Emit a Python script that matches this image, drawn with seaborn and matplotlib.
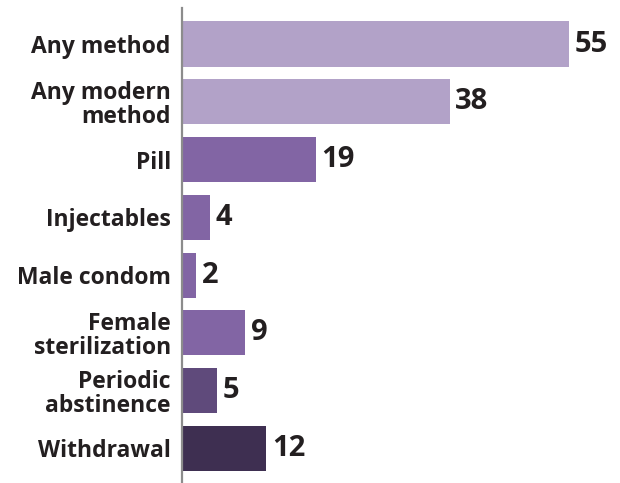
import matplotlib
matplotlib.use("Agg")
import matplotlib.pyplot as plt
import seaborn as sns
import pandas as pd

categories = ["Any method", "Any modern\nmethod", "Pill", "Injectables", "Male condom",
              "Female\nsterilization", "Periodic\nabstinence", "Withdrawal"]
values = [55, 38, 19, 4, 2, 9, 5, 12]
colors = ["#b2a2c8", "#b2a2c8", "#8265a4", "#8265a4", "#8265a4", "#8265a4", "#5f4a7b", "#3e2f51"]

df = pd.DataFrame({"cat": categories, "val": values})

sns.set_style("white")
plt.rcParams["font.family"] = ["Open Sans", "DejaVu Sans"]

fig = plt.figure(figsize=(6.2, 4.83), dpi=100)
ax = fig.add_axes([0.2935, 0.0, 0.7065, 0.983])
sns.barplot(data=df, x="val", y="cat", hue="cat", palette=colors, legend=False,
            orient="h", width=0.78, ax=ax, saturation=1, linewidth=0)
ax.set_xlim(0, 62.2)
ax.set_ylim(7.6, -0.62)
for i, v in enumerate(values):
    ax.text(v + 0.8, i, str(v), va="center", ha="left", fontsize=21, fontweight="bold", color="#231f20")
ax.set_xlabel("")
ax.set_ylabel("")
ax.set_xticks([])
ax.tick_params(axis="y", length=0, pad=8)
for lab in ax.get_yticklabels():
    lab.set_fontweight("bold")
    lab.set_fontsize(16.5)
    lab.set_color("#231f20")
    lab.set_multialignment("right")
    lab.set_linespacing(1.0)
for s in ["top", "right", "bottom"]:
    ax.spines[s].set_visible(False)
ax.spines["left"].set_color("#8c8c8c")
ax.spines["left"].set_linewidth(1.6)
fig.savefig("out.png", dpi=100, facecolor="white")
